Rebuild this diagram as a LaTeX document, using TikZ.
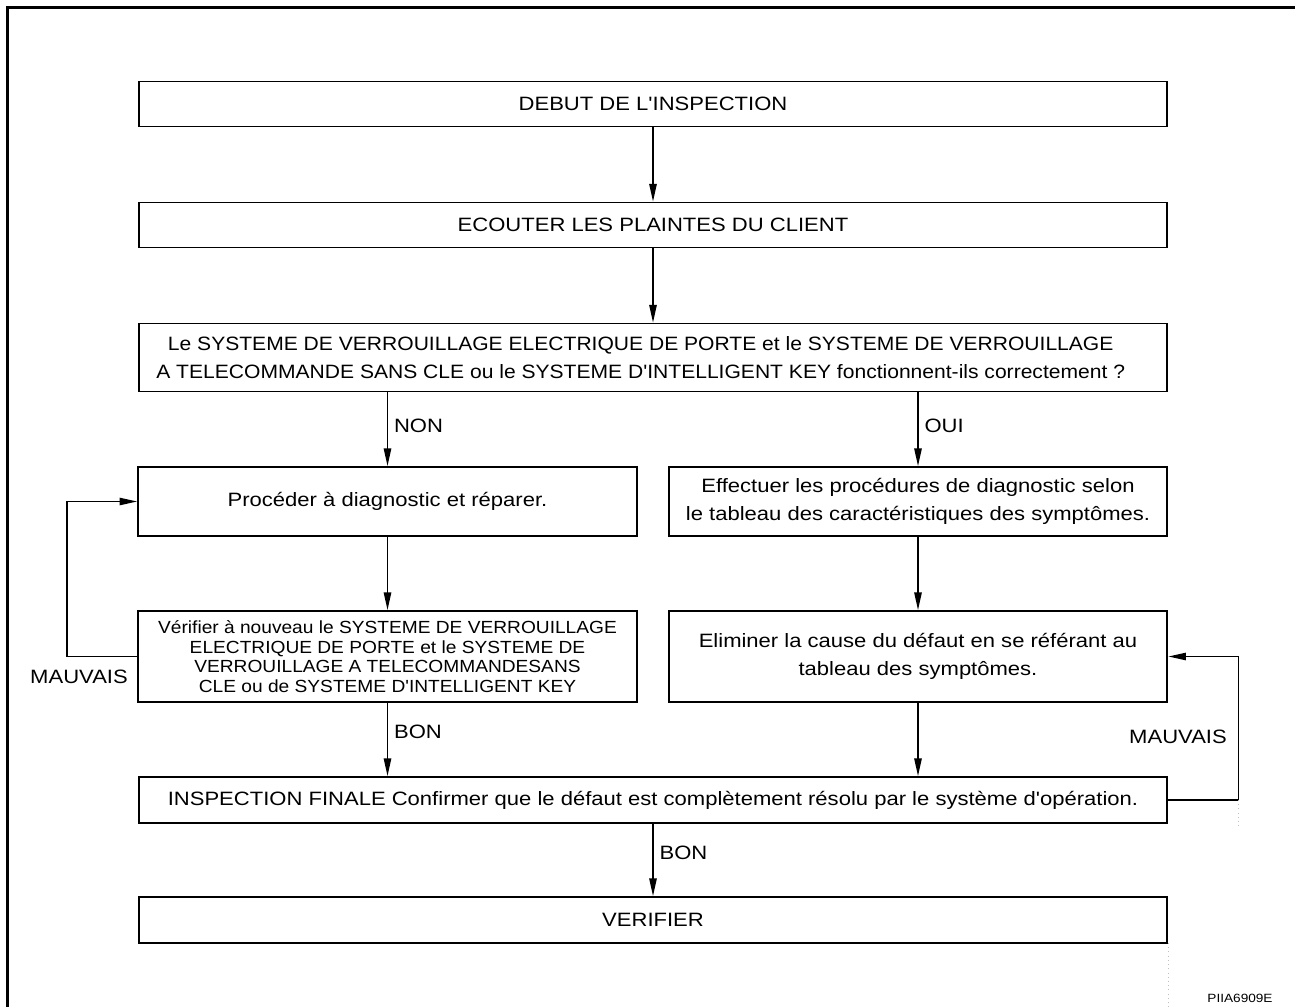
\documentclass[tikz,border=0pt]{standalone}
\usepackage{fontspec}
\newfontfamily\lsans{Liberation Sans}[FakeStretch=1.14]
\newfontfamily\lsansn{Liberation Sans}[FakeStretch=1.09]
\usetikzlibrary{arrows.meta,calc,positioning}
\tikzset{flow/.style={line width=0.8pt, -{Triangle[length=10pt, width=4.2pt]}},
  box/.style={draw, line width=1.1pt, align=center, inner sep=0pt},
  wbox/.style={box, minimum width=20.58cm, minimum height=0.9cm},
  hbox/.style={box, minimum width=9.98cm},
  lbl/.style={font=\lsans\fontsize{11}{13}\selectfont}}

\begin{document}
\begin{tikzpicture}[x=0.02cm, y=-0.02cm, font=\lsans\fontsize{11}{15.9}\selectfont]
  \useasboundingbox (0,0) rectangle (1295,1007);
  % frame
  \draw[line width=1.7pt] (7.7,1007) -- (7.7,7.7) -- (1295,7.7);
  % main column
  \node[wbox] (start) at (653,104) {DEBUT DE L'INSPECTION};
  \node[wbox] (listen) at (653,225) {ECOUTER LES PLAINTES DU CLIENT};
  \node[wbox, minimum height=1.36cm, font=\lsansn\fontsize{11}{15.9}\selectfont] (ask) at (653,357.5) {Le SYSTEME DE VERROUILLAGE ELECTRIQUE DE PORTE et le SYSTEME DE VERROUILLAGE\hspace*{14pt}\\A TELECOMMANDE SANS CLE ou le SYSTEME D'INTELLIGENT KEY fonctionnent-ils correctement ?\hspace*{14pt}};
  \draw[flow] (start) -- (listen);
  \draw[flow] (listen) -- (ask);
  % NON branch
  \node[hbox, minimum height=1.38cm] (repair) at (387.5,501.5) {Procéder à diagnostic et réparer.};
  \node[hbox, minimum height=1.82cm, font=\lsansn\fontsize{10}{11.1}\selectfont] (recheck) at (387.5,656.5) {Vérifier à nouveau le SYSTEME DE VERROUILLAGE\\ELECTRIQUE DE PORTE et le SYSTEME DE\\VERROUILLAGE A TELECOMMANDESANS\\CLE ou de SYSTEME D'INTELLIGENT KEY};
  \draw[flow] (repair |- ask.south) -- node[lbl, right, pos=0.45]{NON} (repair.north);
  \draw[flow] (repair) -- (recheck);
  % OUI branch
  \node[hbox, minimum height=1.38cm] (proc) at (918,501.5) {Effectuer les procédures de diagnostic selon\\le tableau des caractéristiques des symptômes.};
  \node[hbox, minimum height=1.82cm] (elim) at (918,656.5) {Eliminer la cause du défaut en se référant au\\tableau des symptômes.};
  \draw[flow] (proc |- ask.south) -- node[lbl, right, pos=0.45]{OUI} (proc.north);
  \draw[flow] (proc) -- (elim);
  % end
  \node[wbox, minimum height=0.92cm] (final) at (653,800) {INSPECTION FINALE Confirmer que le défaut est complètement résolu par le système d'opération.};
  \node[wbox, minimum height=0.92cm] (verify) at (653,920) {VERIFIER};
  \draw[flow] (recheck.south) -- node[lbl, right, pos=0.4]{BON} (recheck.south |- final.north);
  \draw[flow] (elim.south) -- (elim.south |- final.north);
  \draw[flow] (final) -- node[lbl, right, pos=0.4]{BON} (verify);
  % loops
  \draw[flow] (recheck.west) -- ++(-70,0) |- (repair.west);
  \node[lbl] (badL) at (79,677) {MAUVAIS};
  \draw[flow] (final.east) -- ++(70,0) |- (elim.east);
  \node[lbl] (badR) at (1178,737) {MAUVAIS};
  % scan marks
  \coordinate (dotA) at (1238,800);
  \coordinate (dotB) at (1168,943);
  \draw[gray!50, dotted, line width=0.4pt] (dotA) -- ++(0,27);
  \draw[gray!50, dotted, line width=0.4pt] (dotB) -- (1168,1007);
  \node[font=\lsans\fontsize{6.8}{8}\selectfont] (code) at (1240,998) {PIIA6909E};
\end{tikzpicture}
\end{document}
